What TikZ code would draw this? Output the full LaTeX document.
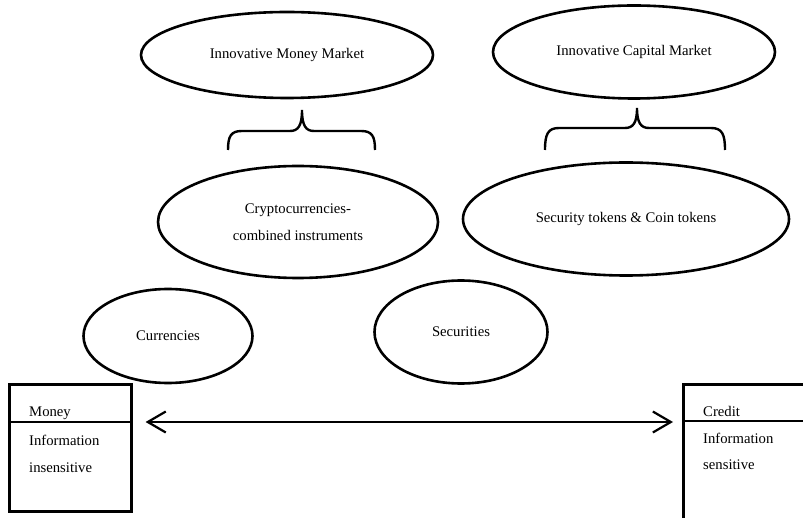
\documentclass[tikz,border=0pt]{standalone}
\usepackage{fontspec}
\setmainfont{Liberation Serif}
\usetikzlibrary{shapes.geometric}
\usetikzlibrary{arrows.meta}

\tikzset{
  mkt/.style={ellipse, draw, line width=2.6pt, inner sep=0pt},
  box/.style={rectangle, draw, line width=2.6pt, inner sep=0pt, anchor=north west},
  lbl/.style={inner sep=0pt, anchor=base west}
}

\begin{document}
\begin{tikzpicture}[x=1pt, y=-1pt, font=\fontsize{14.7}{27}\selectfont]

\useasboundingbox (0,0) rectangle (803,518);
\clip (0,0) rectangle (803,518);

% markets
\node (mmkt) at (287,55) [mkt, minimum width=292pt, minimum height=86pt] {Innovative Money Market};
\node (cmkt) at (634,52) [mkt, minimum width=282pt, minimum height=93pt] {Innovative Capital Market};

% braces
\draw[line width=2.4pt] (228,150) .. controls (228,136) and (231,131) .. (242,131) -- (290,131)
  .. controls (298,131) and (302,126) .. (302,110) .. controls (302,126) and (306,131) .. (314,131)
  -- (361,131) .. controls (372,131) and (375,136) .. (375,150);
\draw[line width=2.4pt] (545,150) .. controls (545,134) and (548,128) .. (559,128) -- (625,128)
  .. controls (633,128) and (637,123) .. (637,108) .. controls (637,123) and (641,128) .. (649,128)
  -- (711,128) .. controls (722,128) and (725,134) .. (725,150);

% instruments
\node (crypto) at (298,222) [mkt, minimum width=280pt, minimum height=112pt, align=center] {Cryptocurrencies-\\combined instruments};
\node (sectok) at (626,219) [mkt, minimum width=326pt, minimum height=113pt] {Security tokens \& Coin tokens};
\node (curr) at (168,336) [mkt, minimum width=169pt, minimum height=94pt] {Currencies};
\node (secs) at (461,332) [mkt, minimum width=173pt, minimum height=103pt] {Securities};

% money and credit
\node (money) at (8,383) [box, minimum width=122pt, minimum height=127pt] {};
\node (credit) at (682,383) [box, minimum width=140pt, minimum height=160pt] {};
\coordinate (mdiv) at (8,422);
\coordinate (cdiv) at (682,421);
\draw[line width=2.6pt] (mdiv) -- (money.east |- mdiv);
\draw[line width=2.6pt] (cdiv) -- (credit.east |- cdiv);

\node (moneytxt) at (29,417) [lbl] {Money};
\node (moneyinf) at (29,445) [lbl] {Information};
\node (moneyins) at (29,472) [lbl] {insensitive};
\node (credittxt) at (703,416) [lbl] {Credit};
\node (creditinf) at (703,443) [lbl] {Information};
\node (creditsen) at (703,469) [lbl] {sensitive};

\draw[line width=2.2pt, {Straight Barb[length=18pt,width=21pt]}-{Straight Barb[length=18pt,width=21pt]}]
  ([xshift=13pt]money.east |- mdiv) -- ([xshift=-9pt]credit.west |- mdiv);

\end{tikzpicture}
\end{document}
